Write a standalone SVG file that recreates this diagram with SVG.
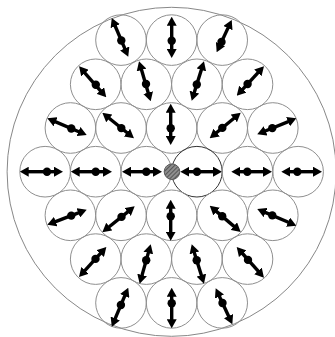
<svg xmlns="http://www.w3.org/2000/svg" width="335" height="337" viewBox="0 0 335 337">
<style>
.outer{fill:none;stroke:#888;stroke-width:1}
.cell{fill:none;stroke:#8f8f8f;stroke-width:1}
.cell.dark{stroke:#333}
.arr{stroke:#000;stroke-width:3.4;fill:none;marker-start:url(#ah);marker-end:url(#ah)}
.dot{fill:#000}
</style>
<defs>
<marker id="ah" markerUnits="userSpaceOnUse" markerWidth="9" markerHeight="10" viewBox="0 0 9 10" refX="3" refY="5" orient="auto-start-reverse"><path d="M0,0 L9,5 L0,10 z" fill="#000"/></marker>
<pattern id="hatch" patternUnits="userSpaceOnUse" width="3" height="3" patternTransform="rotate(-45)"><rect width="3" height="3" fill="#8e8e8e"/><line x1="0" y1="0.5" x2="3" y2="0.5" stroke="#555" stroke-width="1"/></pattern>
</defs>
<rect width="335" height="337" fill="#fff"/>
<circle id="boundary" class="outer" cx="171.6" cy="171.8" r="164.5"/>
<g id="connectors"></g>
<g id="n1"><circle class="cell" cx="121" cy="40.1" r="25.3"/><line class="arr" x1="114.1" y1="23.5" x2="125.9" y2="51.2"/><circle class="dot" cx="121.3" cy="40.5" r="4.2"/></g>
<g id="n2"><circle class="cell" cx="171.6" cy="40.1" r="25.3"/><line class="arr" x1="171.7" y1="22.7" x2="171.7" y2="52"/><circle class="dot" cx="171.7" cy="40.7" r="4.2"/></g>
<g id="n3"><circle class="cell" cx="222.2" cy="40.1" r="25.3"/><line class="arr" x1="229.2" y1="25.4" x2="219.2" y2="46.9"/><circle class="dot" cx="221.5" cy="42" r="4.2"/></g>
<g id="n4"><circle class="cell" cx="95.7" cy="84.3" r="25.3"/><line class="arr" x1="83" y1="70.8" x2="102.3" y2="92.8"/><circle class="dot" cx="95.8" cy="84.8" r="4.2"/></g>
<g id="n5"><circle class="cell" cx="146.3" cy="84.3" r="25.3"/><line class="arr" x1="140.7" y1="67.1" x2="149" y2="95.5"/><circle class="dot" cx="146" cy="84" r="4.2"/></g>
<g id="n6"><circle class="cell" cx="196.9" cy="84.3" r="25.3"/><line class="arr" x1="202.2" y1="67" x2="193.5" y2="95"/><circle class="dot" cx="196.8" cy="84.5" r="4.2"/></g>
<g id="n7"><circle class="cell" cx="247.5" cy="84.3" r="25.3"/><line class="arr" x1="259.9" y1="70.7" x2="240.8" y2="91.3"/><circle class="dot" cx="247.6" cy="84" r="4.2"/></g>
<g id="n8"><circle class="cell" cx="70.4" cy="128" r="25.3"/><line class="arr" x1="52.8" y1="120.6" x2="81.2" y2="132.7"/><circle class="dot" cx="71.3" cy="128.5" r="4.2"/></g>
<g id="n9"><circle class="cell" cx="121" cy="128" r="25.3"/><line class="arr" x1="107" y1="116.5" x2="129.3" y2="134.5"/><circle class="dot" cx="121.3" cy="128.1" r="4.2"/></g>
<g id="n10"><circle class="cell" cx="171.6" cy="128" r="25.3"/><line class="arr" x1="170.7" y1="109.7" x2="170.7" y2="139"/><circle class="dot" cx="170.7" cy="128.3" r="4.2"/></g>
<g id="n11"><circle class="cell" cx="222.2" cy="128" r="25.3"/><line class="arr" x1="236.1" y1="116.5" x2="214.3" y2="134.5"/><circle class="dot" cx="222.3" cy="127.9" r="4.2"/></g>
<g id="n12"><circle class="cell" cx="272.8" cy="128" r="25.3"/><line class="arr" x1="290.8" y1="120.6" x2="262.8" y2="132"/><circle class="dot" cx="272.3" cy="128.1" r="4.2"/></g>
<g id="n13"><circle class="cell" cx="45.1" cy="171.7" r="25.3"/><line class="arr" x1="25.7" y1="171.7" x2="57" y2="171.7"/><circle class="dot" cx="47" cy="171.7" r="4.2"/></g>
<g id="n14"><circle class="cell" cx="95.7" cy="171.7" r="25.3"/><line class="arr" x1="76.7" y1="171.7" x2="106" y2="171.7"/><circle class="dot" cx="95.7" cy="171.7" r="4.2"/></g>
<g id="n15"><circle class="cell" cx="146.3" cy="171.7" r="25.3"/><line class="arr" x1="128" y1="171.7" x2="156" y2="171.7"/><circle class="dot" cx="146.3" cy="171.7" r="4.2"/></g>
<g id="n16"><circle class="cell dark" cx="196.9" cy="171.7" r="25.3"/><line class="arr" x1="186.3" y1="171.7" x2="216" y2="171.7"/><circle class="dot" cx="197" cy="171.7" r="4.2"/></g>
<g id="n17"><circle class="cell" cx="247.5" cy="171.7" r="25.3"/><line class="arr" x1="237.3" y1="171.7" x2="266" y2="171.7"/><circle class="dot" cx="247.3" cy="171.7" r="4.2"/></g>
<g id="n18"><circle class="cell" cx="298.1" cy="171.7" r="25.3"/><line class="arr" x1="287.3" y1="171.7" x2="316" y2="171.7"/><circle class="dot" cx="297.3" cy="171.7" r="4.2"/></g>
<g id="n19"><circle class="cell" cx="70.4" cy="215.3" r="25.3"/><line class="arr" x1="52.9" y1="222.6" x2="81.1" y2="211.8"/><circle class="dot" cx="71.3" cy="215.6" r="4.2"/></g>
<g id="n20"><circle class="cell" cx="121" cy="215.3" r="25.3"/><line class="arr" x1="107" y1="228.5" x2="130" y2="210.1"/><circle class="dot" cx="121.5" cy="216.9" r="4.2"/></g>
<g id="n21"><circle class="cell" cx="171.6" cy="215.3" r="25.3"/><line class="arr" x1="170.7" y1="205.7" x2="170.7" y2="234.7"/><circle class="dot" cx="170.7" cy="216.3" r="4.2"/></g>
<g id="n22"><circle class="cell" cx="222.2" cy="215.3" r="25.3"/><line class="arr" x1="214.3" y1="209.6" x2="236.1" y2="228.1"/><circle class="dot" cx="222.2" cy="216.2" r="4.2"/></g>
<g id="n23"><circle class="cell" cx="272.8" cy="215.3" r="25.3"/><line class="arr" x1="262.8" y1="211.4" x2="290.8" y2="223.3"/><circle class="dot" cx="272.3" cy="215.4" r="4.2"/></g>
<g id="n24"><circle class="cell" cx="95.7" cy="259.1" r="25.3"/><line class="arr" x1="102.3" y1="251.4" x2="83" y2="272.6"/><circle class="dot" cx="95.5" cy="258.9" r="4.2"/></g>
<g id="n25"><circle class="cell" cx="146.3" cy="259.1" r="25.3"/><line class="arr" x1="149.1" y1="250.1" x2="141.3" y2="277.9"/><circle class="dot" cx="146.2" cy="260.3" r="4.2"/></g>
<g id="n26"><circle class="cell" cx="196.9" cy="259.1" r="25.3"/><line class="arr" x1="193.5" y1="250" x2="202.2" y2="278"/><circle class="dot" cx="196.7" cy="260.3" r="4.2"/></g>
<g id="n27"><circle class="cell" cx="247.5" cy="259.1" r="25.3"/><line class="arr" x1="240.7" y1="251.5" x2="260" y2="273.2"/><circle class="dot" cx="248" cy="259.9" r="4.2"/></g>
<g id="n28"><circle class="cell" cx="121" cy="302.9" r="25.3"/><line class="arr" x1="125.9" y1="293.2" x2="114.1" y2="321.2"/><circle class="dot" cx="120.9" cy="305" r="4.2"/></g>
<g id="n29"><circle class="cell" cx="171.6" cy="302.9" r="25.3"/><line class="arr" x1="171.7" y1="293.7" x2="171.7" y2="322.3"/><circle class="dot" cx="171.7" cy="303.3" r="4.2"/></g>
<g id="n30"><circle class="cell" cx="222.2" cy="302.9" r="25.3"/><line class="arr" x1="218.2" y1="293.8" x2="229.8" y2="318.8"/><circle class="dot" cx="222.5" cy="303" r="4.2"/></g>
<g id="center"><circle cx="172" cy="171.7" r="7.8" fill="url(#hatch)" stroke="#5a5a5a" stroke-width="1"/></g>
</svg>
